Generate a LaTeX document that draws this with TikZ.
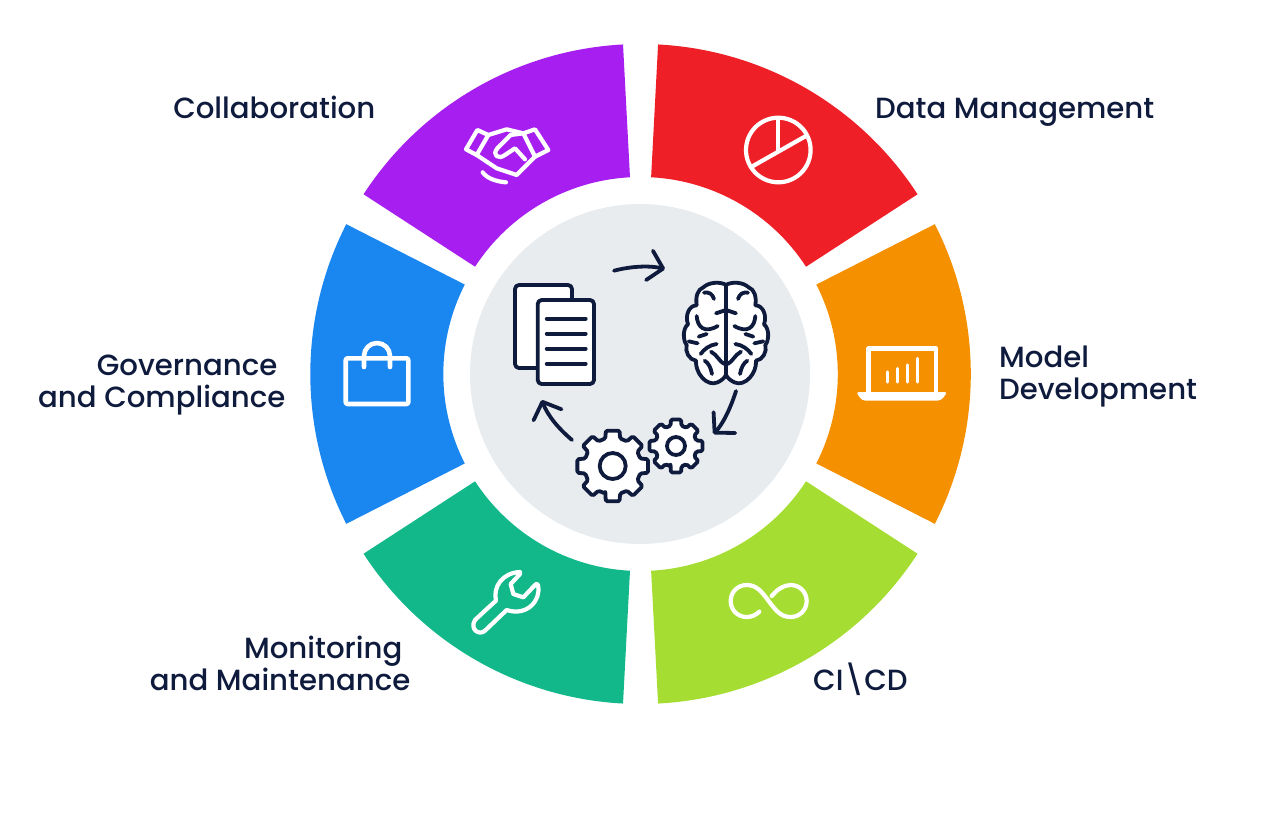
\documentclass[tikz,border=0pt]{standalone}
\usepackage{fontspec}
\setmainfont{Poppins Medium}
\usetikzlibrary{arrows.meta}

\definecolor{navy}{HTML}{0F1B3D}
\definecolor{discgrey}{HTML}{E8ECEF}
\definecolor{secpurple}{HTML}{A61FF0}
\definecolor{secred}{HTML}{EF1F28}
\definecolor{secorange}{HTML}{F59000}
\definecolor{seclime}{HTML}{A6DD32}
\definecolor{secteal}{HTML}{12B88A}
\definecolor{secblue}{HTML}{1A86F0}

\tikzset{
    lab/.style={font=\fontsize{29.2}{32}\selectfont, text=navy, inner sep=0pt},
    iconline/.style={draw=white, line width=4.2pt, line cap=round, line join=round},
    darkline/.style={draw=navy, line width=3.8pt, line cap=round, line join=round},
    flowarrow/.style={darkline, -{Straight Barb[length=14pt,width=30pt,round]}}
}

\begin{document}
\begin{tikzpicture}[x=1pt, y=-1pt]
    \useasboundingbox (0, 0) rectangle (1280, 831);

    % ring of six sectors
    \foreach \ang/\col/\cx in {60/secred/640.8, 0/secorange/640.8, -60/seclime/640.8, -120/secteal/640.3, 180/secblue/640.3, 120/secpurple/640.3} {
        \begin{scope}[shift={(\cx, 374)}]
            \fill[\col] (\ang-27:330pt) arc [start angle=\ang-27, end angle=\ang+27, radius=330pt]
                -- (\ang+27:197pt) arc [start angle=\ang+27, end angle=\ang-27, radius=197pt] -- cycle;
        \end{scope}
    }
    \fill[discgrey] (640, 374) circle [radius=170pt];

    % labels
    \node[lab, anchor=base west] (datamgmt) at (875, 118) {Data Management};
    \node[lab, anchor=base east] (collab) at (375.5, 118) {Collaboration};
    \node[lab, anchor=north west, align=left] (modeldev) at (999, 346) {Model\\Development};
    \node[lab, anchor=north east, align=right] (govern) at (285.5, 355) {Governance\hspace*{8pt}\\and Compliance};
    \node[lab, anchor=north east, align=right] (monitor) at (410.5, 636) {Monitoring\hspace*{8pt}\\and Maintenance};
    \node[lab, anchor=base west] (cicd) at (813, 690) {CI\textbackslash CD};

    % pie chart icon
    \draw[iconline] (778.3, 150) circle [radius=32.3pt];
    \draw[iconline] (753, 166) -- (805, 136.5);
    \draw[iconline] (778.3, 150) -- (778.3, 120);

    % laptop icon
    \draw[iconline, line width=4.4pt] (868.5, 393) -- (868.5, 348.5) -- (936, 348.5) -- (936, 393);
    \fill[white, rounded corners=3pt] (856, 392) -- (947.5, 392) -- (941, 400.5) -- (862, 400.5) -- cycle;
    \foreach \x/\ytop in {887.3/372, 897.3/368.5, 907.3/365, 917.3/358.5}
        \draw[iconline, line width=3.4pt] (\x, 382) -- (\x, \ytop);

    % bag icon
    \draw[iconline, line width=4.6pt, rounded corners=2pt] (345.7, 358.3) rectangle (408.3, 404);
    \draw[iconline, line width=4.6pt] (364, 367) -- (364, 356) arc [start angle=180, end angle=0, radius=13pt] -- (390, 367);

    % handshake icon
    \begin{scope}[shift={(440, 100)}, x=.3333pt, y=-.3333pt]
        \draw[iconline] (112, 90) -- (145, 105) -- (110, 165) -- (78, 148) -- cycle;
        \draw[iconline] (285, 88) -- (325, 150) -- (285, 170) -- (250, 100) -- cycle;
        \draw[iconline] (145, 105) -- (200, 88) -- (250, 100);
        \draw[iconline] (250, 100) -- (212, 105) -- (172, 145) .. controls (155, 165) and (175, 180) .. (195, 165) -- (225, 145) -- (255, 178);
        \draw[iconline] (110, 165) -- (170, 205) -- (230, 225) -- (285, 170);
        \draw[iconline] (128, 217) .. controls (140, 235) and (170, 245) .. (198, 247);
    \end{scope}

    % wrench icon
    \begin{scope}[shift={(460, 570)}, x=.3333pt, y=-.3333pt]
        \draw[iconline] (75, 122) -- (108, 92) .. controls (98, 50) and (128, 8) .. (180, 6)
            .. controls (182, 8) and (182, 10) .. (180, 12) -- (152, 42) -- (160, 72) -- (190, 82) -- (226, 44)
            .. controls (230, 40) and (233, 40) .. (234, 46)
            .. controls (244, 92) and (200, 140) .. (140, 120) -- (75, 182)
            .. controls (58, 198) and (28, 178) .. (45, 150) -- cycle;
    \end{scope}

    % infinity icon
    \begin{scope}[shift={(720, 570)}, x=.3333pt, y=-.3333pt]
        \draw[iconline] (118, 125) .. controls (108, 135) and (95, 141) .. (80, 141)
            .. controls (53, 141) and (32, 120) .. (32, 93)
            .. controls (32, 66) and (53, 45) .. (80, 45)
            .. controls (110, 45) and (125, 65) .. (146, 93)
            .. controls (167, 121) and (182, 141) .. (212, 141)
            .. controls (239, 141) and (260, 120) .. (260, 93)
            .. controls (260, 66) and (239, 45) .. (212, 45)
            .. controls (190, 45) and (170, 60) .. (155, 78);
    \end{scope}

    % documents
    \draw[darkline, fill=white, rounded corners=4pt] (515, 285) rectangle (572, 368);
    \draw[darkline, fill=white, rounded corners=4pt] (537.7, 300) rectangle (594, 384);
    \foreach \y in {318.7, 333.7, 348.7, 363.7}
        \draw[darkline] (546.7, \y) -- (585.7, \y);

    % brain, drawn as one half and its mirror image
    \foreach \s in {1, -1} {
        \begin{scope}[shift={(726, 230)}, xscale=\s, x=.3333pt, y=-.3333pt]
            \draw[darkline, fill=white] (0, 165) .. controls (15, 155) and (50, 155) .. (68, 172)
                .. controls (85, 178) and (92, 200) .. (88, 226)
                .. controls (110, 226) and (124, 255) .. (114, 283)
                .. controls (130, 295) and (130, 330) .. (118, 345)
                .. controls (124, 365) and (110, 390) .. (90, 392)
                .. controls (93, 428) and (58, 472) .. (25, 457)
                .. controls (15, 452) and (5, 445) .. (0, 435) -- cycle;
            \draw[darkline] (36, 207) .. controls (40, 192) and (52, 185) .. (66, 188);
            \draw[darkline] (3, 241) -- (30, 250);
            \draw[darkline] (88, 258) .. controls (86, 290) and (66, 312) .. (25, 288);
            \draw[darkline] (82, 320) -- (58, 312);
            \draw[darkline] (85, 340) -- (112, 334);
            \draw[darkline] (28, 342) .. controls (50, 345) and (66, 358) .. (76, 372);
            \draw[darkline] (42, 432) .. controls (46, 412) and (52, 400) .. (64, 392);
            \draw[darkline] (5, 402) .. controls (20, 395) and (26, 375) .. (45, 365);
        \end{scope}
    }

    % gears
    \foreach \cx/\cy/\ro/\rr/\rh/\wo/\wr in {612.7/466/36/28.5/13/11/15, 676/446/27/21/9/11/15} {
        \draw[darkline, fill=white, rounded corners=1.5pt]
            ([shift={(\cx, \cy)}]-90-\wr:\rr pt)
            \foreach \a in {-90, -45, 0, 45, 90, 135, 180, 225} {
                -- ([shift={(\cx, \cy)}]\a-\wo:\ro pt) -- ([shift={(\cx, \cy)}]\a+\wo:\ro pt)
                -- ([shift={(\cx, \cy)}]\a+\wr:\rr pt) -- ([shift={(\cx, \cy)}]\a+45-\wr:\rr pt)
            } -- cycle;
        \draw[darkline] (\cx, \cy) circle [radius=\rh pt];
    }

    % flow arrows
    \coordinate (docsout) at (572, 440);
    \coordinate (docsin) at (541.7, 400);
    \coordinate (brainin) at (614, 270.7);
    \coordinate (brainmid) at (665, 269);
    \coordinate (brainout) at (736, 391);
    \coordinate (gearin) at (713.3, 434);
    \draw[flowarrow] (brainin) .. controls (632, 266) and (650, 265.5) .. (brainmid);
    \draw[flowarrow] (brainout) .. controls (730, 410) and (722, 425) .. (gearin);
    \draw[flowarrow] (docsout) .. controls (558, 428) and (548, 416) .. (docsin);
\end{tikzpicture}
\end{document}
